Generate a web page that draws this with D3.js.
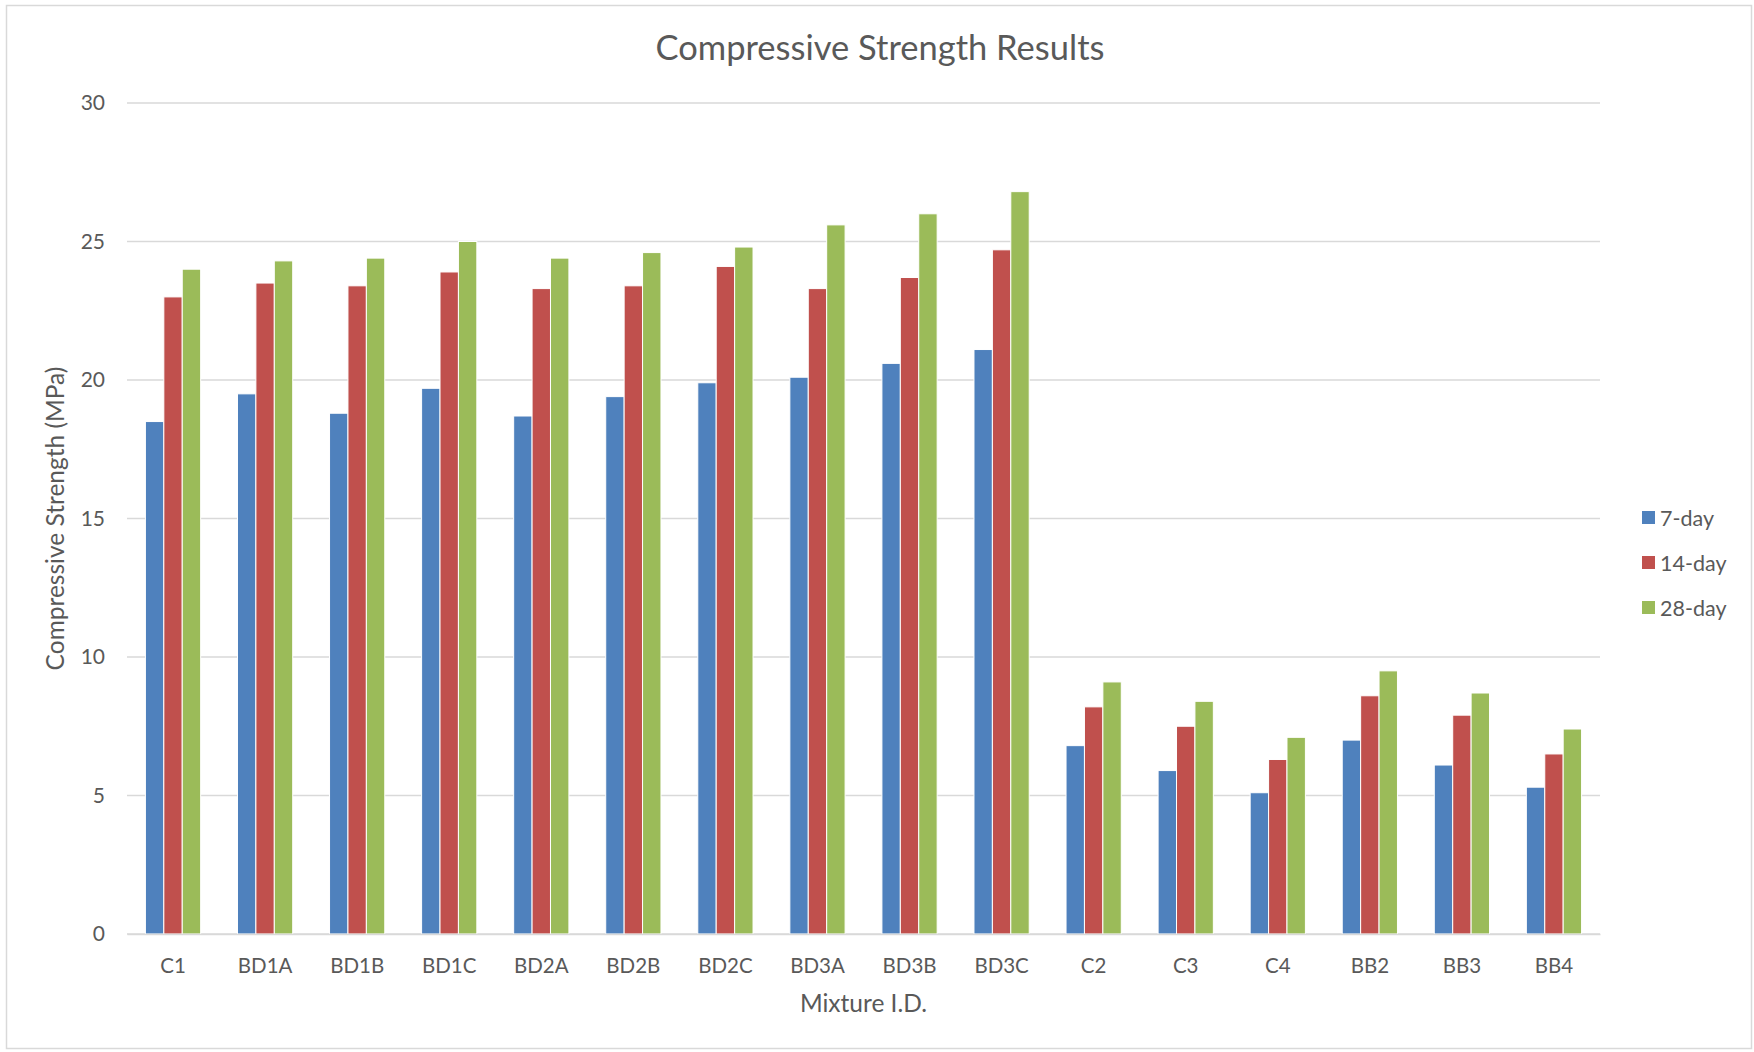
<!DOCTYPE html>
<html>
<head>
<meta charset="utf-8">
<script src="https://cdn.jsdelivr.net/npm/d3@7"></script>
<style>
  html, body { margin: 0; padding: 0; background: #fff; }
  svg { display: block; font-family: Lato, "Open Sans", sans-serif; }
</style>
</head>
<body>
<svg id="chart" width="1754" height="1052"></svg>
<script>
// Mixture IDs along the horizontal axis
const mixtures = ["C1", "BD1A", "BD1B", "BD1C", "BD2A", "BD2B", "BD2C", "BD3A", "BD3B", "BD3C",
                  "C2", "C3", "C4", "BB2", "BB3", "BB4"];
// Curing ages (series)
const ages = ["7-day", "14-day", "28-day"];
// Compressive strength, MPa
const strength7  = [18.5, 19.5, 18.8, 19.7, 18.7, 19.4, 19.9, 20.1, 20.6, 21.1, 6.8, 5.9, 5.1, 7.0, 6.1, 5.3];
const strength14 = [23.0, 23.5, 23.4, 23.9, 23.3, 23.4, 24.1, 23.3, 23.7, 24.7, 8.2, 7.5, 6.3, 8.6, 7.9, 6.5];
const strength28 = [24.0, 24.3, 24.4, 25.0, 24.4, 24.6, 24.8, 25.6, 26.0, 26.8, 9.1, 8.4, 7.1, 9.5, 8.7, 7.4];
const yTicks = [0, 5, 10, 15, 20, 25, 30];

const seriesValues = [strength7, strength14, strength28];
const colors = ["#4F81BD", "#C0504D", "#9BBB59"];

const svg = d3.select("#chart");
const W = 1754, H = 1052;
const plot = { left: 127, right: 1600, top: 103, bottom: 934 };

// Outer chart frame
svg.append("rect")
  .attr("x", 6.5).attr("y", 5.5)
  .attr("width", W - 9).attr("height", H - 9)
  .attr("fill", "#fff").attr("stroke", "#D9D9D9").attr("stroke-width", 1.5);

const x0 = d3.scaleBand().domain(mixtures)
  .range([plot.left, plot.right]).paddingInner(0.4).paddingOuter(0.2);
const x1 = d3.scaleBand().domain(ages).range([0, x0.bandwidth()]);
const y = d3.scaleLinear().domain([0, 30]).range([plot.bottom, plot.top]);

// Horizontal gridlines
svg.append("g").selectAll("line").data(yTicks).join("line")
  .attr("x1", plot.left).attr("x2", plot.right)
  .attr("y1", d => y(d)).attr("y2", d => y(d))
  .attr("stroke", "#D9D9D9").attr("stroke-width", 1.5);

// Y tick labels
const yAxis = svg.append("g").attr("transform", `translate(${plot.left},0)`)
  .call(d3.axisLeft(y).tickValues(yTicks).tickSize(0).tickPadding(22));
yAxis.select(".domain").remove();
yAxis.selectAll("text").attr("fill", "#595959").style("font-size", "21px")
  .style("font-family", "Lato, 'Open Sans', sans-serif");

// Bars
const rows = mixtures.map((m, i) => ({ m, vals: ages.map((a, k) => ({ a, v: seriesValues[k][i], k })) }));
svg.append("g").selectAll("g").data(rows).join("g")
  .attr("transform", d => `translate(${x0(d.m)},0)`)
  .selectAll("rect").data(d => d.vals).join("rect")
  .attr("x", d => x1(d.a))
  .attr("width", x1.bandwidth())
  .attr("y", d => y(d.v))
  .attr("height", d => y(0) - y(d.v))
  .attr("fill", d => colors[d.k])
  .attr("stroke", "#fff").attr("stroke-width", 1);

// Category axis
const xAxis = svg.append("g").attr("transform", `translate(0,${plot.bottom})`)
  .call(d3.axisBottom(x0).tickSize(0).tickPadding(24));
xAxis.select(".domain").attr("stroke", "#D9D9D9").attr("stroke-width", 1.5);
xAxis.selectAll("text").attr("fill", "#595959").style("font-size", "20.5px")
  .style("font-family", "Lato, 'Open Sans', sans-serif");

// Title
svg.append("text").attr("x", 880).attr("y", 60)
  .attr("text-anchor", "middle").attr("fill", "#595959")
  .style("font-size", "34.5px").text("Compressive Strength Results");

// Axis titles
svg.append("text").attr("x", (plot.left + plot.right) / 2).attr("y", 1012)
  .attr("text-anchor", "middle").attr("fill", "#595959")
  .style("font-size", "24.5px").text("Mixture I.D.");
svg.append("text")
  .attr("transform", `translate(64,${(plot.top + plot.bottom) / 2}) rotate(-90)`)
  .attr("text-anchor", "middle").attr("fill", "#595959")
  .style("font-size", "24.5px").text("Compressive Strength (MPa)");

// Legend
const legend = svg.append("g").attr("transform", "translate(1642,518)");
const item = legend.selectAll("g").data(ages).join("g")
  .attr("transform", (d, i) => `translate(0,${i * 45})`);
item.append("rect").attr("x", 0).attr("y", -7).attr("width", 13).attr("height", 13)
  .attr("fill", (d, i) => colors[i]);
item.append("text").attr("x", 18).attr("y", 8).attr("fill", "#595959")
  .style("font-size", "21.5px").text(d => d);
</script>
</body>
</html>
